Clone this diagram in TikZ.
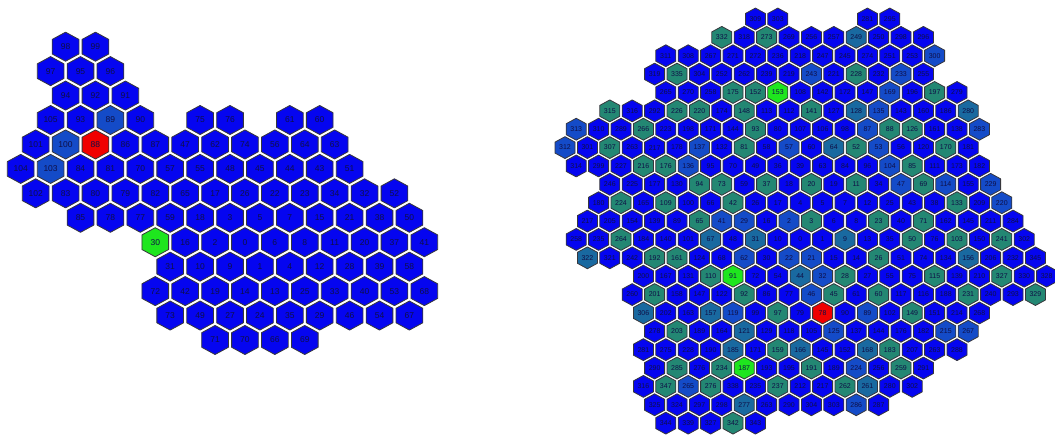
\documentclass[tikz,border=0pt]{standalone}
\usepackage{fontspec}
\setmainfont{Liberation Sans}

\definecolor{hb}{RGB}{5,5,240}
\definecolor{hm}{RGB}{20,75,200}
\definecolor{hn}{RGB}{25,105,160}
\definecolor{ht}{RGB}{35,135,115}
\definecolor{hg}{RGB}{30,230,30}
\definecolor{hr}{RGB}{240,0,0}
\definecolor{hexedge}{RGB}{55,55,60}
\definecolor{hextext}{RGB}{15,15,70}

\begin{document}
\begin{tikzpicture}[
    x=1pt, y=-1pt,
    hexcell/.style={draw=hexedge, line width=0.8pt, line join=round},
    hexlabel/.style={inner sep=0pt, text=hextext},
  ]
  \useasboundingbox (0,0) rectangle (1055,441);

  % left cluster
  \begin{scope}[shift={(20.7,46.7)}, x=14.95pt, y=-24.44pt,
      hexlabel/.append style={font=\fontsize{8.5}{9}\selectfont}]
    \foreach \r/\cells in {
      0/{3/98/b, 5/99/b},
      1/{2/97/b, 4/95/b, 6/96/b},
      2/{3/94/b, 5/92/b, 7/91/b},
      3/{2/105/b, 4/93/b, 6/89/m, 8/90/b, 12/75/b, 14/76/b, 18/61/b, 20/60/b},
      4/{1/101/b, 3/100/m, 5/88/r, 7/86/b, 9/87/b, 11/47/b, 13/62/b, 15/74/b, 17/56/b, 19/64/b, 21/63/b},
      5/{0/104/b, 2/103/m, 4/84/b, 6/81/b, 8/70/b, 10/57/b, 12/55/b, 14/48/b, 16/45/b, 18/44/b, 20/43/b, 22/51/b},
      6/{1/102/b, 3/83/b, 5/80/b, 7/79/b, 9/82/b, 11/65/b, 13/17/b, 15/26/b, 17/22/b, 19/23/b, 21/34/b, 23/32/b, 25/52/b},
      7/{4/85/b, 6/78/b, 8/77/b, 10/59/b, 12/18/b, 14/3/b, 16/5/b, 18/7/b, 20/15/b, 22/21/b, 24/38/b, 26/50/b},
      8/{9/30/g, 11/16/b, 13/2/b, 15/0/b, 17/6/b, 19/8/b, 21/11/b, 23/20/b, 25/37/b, 27/41/b},
      9/{10/31/b, 12/10/b, 14/9/b, 16/1/b, 18/4/b, 20/12/b, 22/28/b, 24/39/b, 26/58/b},
      10/{9/72/b, 11/42/b, 13/19/b, 15/14/b, 17/13/b, 19/25/b, 21/33/b, 23/40/b, 25/53/b, 27/68/b},
      11/{10/73/b, 12/49/b, 14/27/b, 16/24/b, 18/35/b, 20/29/b, 22/46/b, 24/54/b, 26/67/b},
      12/{13/71/b, 15/70/b, 17/66/b, 19/69/b}%
    }{
      \foreach \k/\lab/\col in \cells {
        \filldraw[hexcell, fill=h\col] (\k,\r) +(0,-0.595) -- +(0.893,-0.298)
          -- +(0.893,0.298) -- +(0,0.595) -- +(-0.893,0.298) -- +(-0.893,-0.298) -- cycle;
        \node[hexlabel] (left-\r-\k) at (\k,\r) {\lab};
      }
    }
  \end{scope}

  % right cluster
  \begin{scope}[shift={(565,19)}, x=11.2pt, y=-18.37pt,
      hexlabel/.append style={font=\fontsize{7}{7}\selectfont}]
    \foreach \r/\cells in {
      0/{17/309/b, 19/303/b, 27/281/b, 29/295/b},
      1/{14/332/t, 16/318/b, 18/273/t, 20/269/b, 22/256/b, 24/257/b, 26/249/n, 28/250/b, 30/298/b, 32/296/b},
      2/{9/311/b, 11/308/b, 13/267/b, 15/271/b, 17/272/b, 19/236/b, 21/218/b, 23/247/b, 25/245/b, 27/274/b, 29/251/b, 31/253/b, 33/300/m},
      3/{8/319/b, 10/335/t, 12/304/b, 14/252/b, 16/262/b, 18/239/b, 20/219/b, 22/243/m, 24/221/b, 26/228/t, 28/232/b, 30/233/m, 32/255/b},
      4/{9/265/b, 11/270/b, 13/258/b, 15/175/t, 17/152/t, 19/153/g, 21/108/b, 23/142/b, 25/172/b, 27/147/b, 29/169/m, 31/196/b, 33/197/t, 35/279/b},
      5/{4/315/t, 6/316/b, 8/292/b, 10/226/t, 12/220/t, 14/174/b, 16/148/t, 18/113/b, 20/112/b, 22/141/t, 24/127/b, 26/128/n, 28/135/m, 30/143/b, 32/160/b, 34/186/b, 36/280/n},
      6/{1/313/m, 3/310/b, 5/289/b, 7/266/t, 9/223/b, 11/198/b, 13/171/b, 15/144/b, 17/93/t, 19/80/b, 21/107/b, 23/106/b, 25/98/b, 27/87/m, 29/88/t, 31/126/t, 33/161/b, 35/138/b, 37/283/m},
      7/{0/312/m, 2/301/b, 4/307/t, 6/263/b, 8/217/b, 10/178/b, 12/137/m, 14/132/b, 16/81/t, 18/58/b, 20/57/m, 22/60/b, 24/64/n, 26/52/t, 28/53/m, 30/56/b, 32/120/b, 34/170/t, 36/181/b},
      8/{1/314/b, 3/299/b, 5/227/b, 7/216/t, 9/176/t, 11/136/m, 13/95/b, 15/70/b, 17/49/b, 19/36/b, 21/39/b, 23/63/b, 25/84/b, 27/96/b, 29/104/m, 31/85/t, 33/111/b, 35/173/b, 37/182/b},
      9/{4/246/b, 6/225/b, 8/177/b, 10/130/b, 12/94/t, 14/73/t, 16/59/b, 18/37/t, 20/18/b, 22/20/t, 24/19/b, 26/11/t, 28/34/b, 30/47/m, 32/69/t, 34/114/m, 36/155/b, 38/229/m},
      10/{3/180/b, 5/224/t, 7/165/b, 9/109/t, 11/100/b, 13/66/b, 15/42/t, 17/26/b, 19/17/b, 21/4/b, 23/5/b, 25/7/b, 27/12/b, 29/25/b, 31/43/b, 33/38/b, 35/133/t, 37/209/b, 39/220/m},
      11/{2/217/b, 4/205/b, 6/154/b, 8/139/b, 10/89/b, 12/65/t, 14/41/m, 16/29/m, 18/16/b, 20/2/m, 22/3/t, 24/6/b, 26/8/b, 28/23/t, 30/40/b, 32/71/t, 34/162/b, 36/145/b, 38/211/b, 40/284/b},
      12/{1/258/b, 3/235/b, 5/264/t, 7/184/b, 9/140/b, 11/101/b, 13/67/n, 15/48/b, 17/31/n, 19/10/b, 21/0/b, 23/1/b, 25/9/n, 27/13/b, 29/35/b, 31/50/t, 33/76/b, 35/103/t, 37/150/b, 39/241/t, 41/302/b},
      13/{2/322/n, 4/321/b, 6/242/b, 8/192/t, 10/161/t, 12/124/b, 14/68/b, 16/62/m, 18/30/b, 20/22/m, 22/21/m, 24/15/b, 26/14/b, 28/26/t, 30/51/b, 32/74/b, 34/134/b, 36/156/n, 38/206/b, 40/232/b, 42/345/b},
      14/{7/200/b, 9/167/b, 11/131/b, 13/110/t, 15/91/g, 17/72/b, 19/54/b, 21/44/n, 23/32/m, 25/28/t, 27/27/b, 29/55/b, 31/75/b, 33/115/t, 35/139/b, 37/210/b, 39/327/t, 41/330/b, 43/328/b},
      15/{6/260/b, 8/201/t, 10/158/b, 12/147/b, 14/122/b, 16/92/t, 18/86/b, 20/77/b, 22/46/m, 24/45/t, 26/61/b, 28/60/t, 30/117/b, 32/116/b, 34/188/b, 36/231/t, 38/240/b, 40/293/b, 42/329/t},
      16/{7/306/n, 9/202/b, 11/163/b, 13/157/n, 15/119/m, 17/99/b, 19/97/t, 21/79/b, 23/78/r, 25/90/b, 27/89/m, 29/102/b, 31/149/t, 33/151/b, 35/214/b, 37/268/b},
      17/{8/278/b, 10/203/t, 12/189/b, 14/164/b, 16/121/n, 18/129/b, 20/118/b, 22/105/b, 24/125/m, 26/137/b, 28/144/b, 30/176/b, 32/182/b, 34/215/m, 36/267/m},
      18/{7/281/b, 9/275/b, 11/228/b, 13/190/b, 15/185/n, 17/171/b, 19/159/t, 21/166/n, 23/145/b, 25/152/b, 27/168/n, 29/183/t, 31/207/b, 33/263/b, 35/288/b},
      19/{8/290/b, 10/285/t, 12/276/b, 14/234/t, 16/187/g, 18/193/b, 20/195/b, 22/191/t, 24/189/b, 26/224/m, 28/256/b, 30/259/t, 32/291/b},
      20/{7/316/b, 9/347/t, 11/265/m, 13/276/t, 15/338/b, 17/235/b, 19/237/t, 21/212/b, 23/217/b, 25/262/t, 27/261/n, 29/280/b, 31/302/b},
      21/{8/325/b, 10/324/b, 12/297/b, 14/298/b, 16/277/n, 18/263/b, 20/290/b, 22/304/b, 24/303/b, 26/286/m, 28/287/b},
      22/{9/344/b, 11/339/b, 13/327/b, 15/342/t, 17/343/b}%
    }{
      \foreach \k/\lab/\col in \cells {
        \filldraw[hexcell, fill=h\col] (\k,\r) +(0,-0.595) -- +(0.893,-0.298)
          -- +(0.893,0.298) -- +(0,0.595) -- +(-0.893,0.298) -- +(-0.893,-0.298) -- cycle;
        \node[hexlabel] (right-\r-\k) at (\k,\r) {\lab};
      }
    }
  \end{scope}
\end{tikzpicture}
\end{document}
